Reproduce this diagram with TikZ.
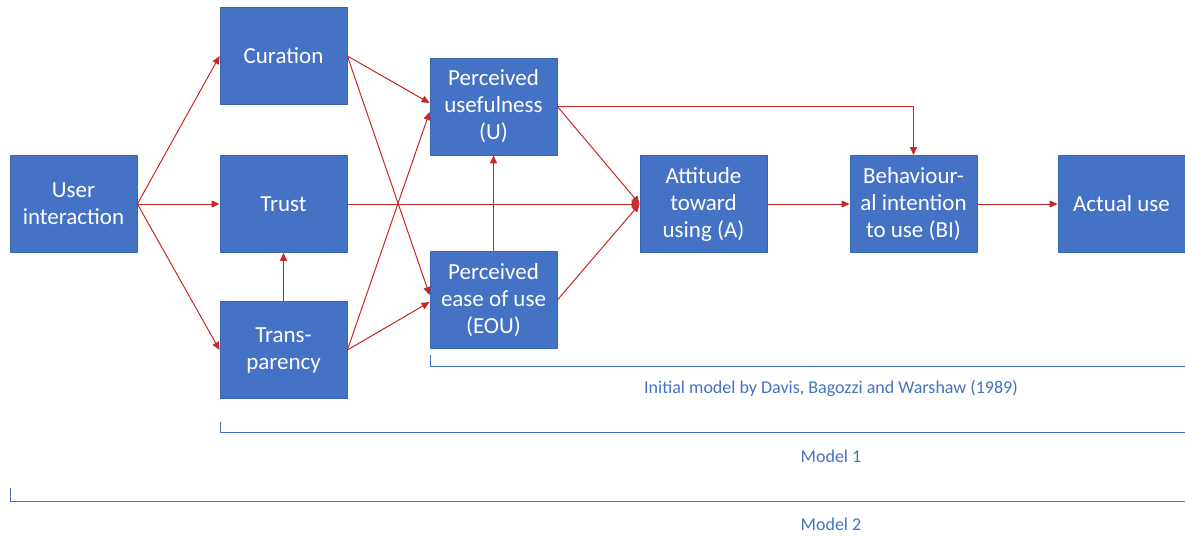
\documentclass[tikz,border=0pt]{standalone}
\usepackage{fontspec}
\setmainfont{Carlito}
\usetikzlibrary{arrows.meta}
\definecolor{boxblue}{HTML}{4472C4}
\definecolor{boxedge}{HTML}{3A65B0}
\definecolor{arrred}{HTML}{C00000}
\definecolor{lblblue}{HTML}{4472C4}
\tikzset{
  box/.style={draw=boxedge, line width=0.8pt, fill=boxblue, minimum width=127pt, minimum height=97pt,
    text=white, align=center, inner sep=0pt, font=\fontsize{23}{27}\selectfont},
  conn/.style={draw=arrred!85, line width=1pt, -{Triangle[length=8pt,width=7pt]}},
  bracket/.style={draw=lblblue, line width=1pt},
  lbl/.style={text=lblblue, font=\fontsize{18}{20}\selectfont, inner sep=0pt}
}
\begin{document}
\begin{tikzpicture}[x=1pt,y=-1pt]
\useasboundingbox (0,0) rectangle (1185,535);
\node[box] (ui) at (73.5,204) {User\\interaction};
\node[box] (cur) at (283.5,56) {Curation};
\node[box] (tru) at (283.5,204) {Trust};
\node[box] (tra) at (283.5,350) {Trans-\\parency};
\node[box] (pu) at (493.5,106.5) {Perceived\\usefulness\\(U)};
\node[box] (eou) at (493.5,300) {Perceived\\ease of use\\(EOU)};
\node[box] (att) at (703.5,204) {Attitude\\toward\\using (A)};
\node[box] (bi) at (913.5,204) {Behaviour-\\al intention\\to use (BI)};
\node[box] (act) at (1121.5,204) {Actual use};

\draw[conn] (ui.east) -- (cur.west);
\draw[conn] (ui.east) -- (tru.west);
\draw[conn] (ui.east) -- (tra.west);
\draw[conn] (cur.east) -- ([yshift=3.5pt]pu.west);
\draw[conn] (cur.east) -- ([yshift=5pt]eou.west);
\draw[conn] (tra.east) -- ([yshift=-5.5pt]pu.west);
\draw[conn] (tra.east) -- ([yshift=-2pt]eou.west);
\draw[conn] (tra.north) -- (tru.south);
\draw[conn] (eou.north) -- (pu.south);
\draw[conn] (tru.east) -- (att.west);
\draw[conn] (pu.east) -- (att.west);
\draw[conn] (eou.east) -- (att.west);
\draw[conn] (pu.east) -| (bi.north);
\draw[conn] (att.east) -- (bi.west);
\draw[conn] (bi.east) -- (act.west);

\coordinate (b1a) at (430,355);
\coordinate (b1b) at (430,366);
\coordinate (b1c) at (1185,366);
\draw[bracket] (b1a) -- (b1b) -- (b1c);
\coordinate (b2a) at (220,422);
\coordinate (b2b) at (220,432);
\coordinate (b2c) at (1185,432);
\draw[bracket] (b2a) -- (b2b) -- (b2c);
\coordinate (b3a) at (10,488);
\coordinate (b3b) at (10,501);
\coordinate (b3c) at (1185,501);
\draw[bracket] (b3a) -- (b3b) -- (b3c);
\node[lbl] (l1) at (831,388) {Initial model by Davis, Bagozzi and Warshaw (1989)};
\node[lbl] (l2) at (831,456) {Model 1};
\node[lbl] (l3) at (831,524) {Model 2};
\end{tikzpicture}
\end{document}
